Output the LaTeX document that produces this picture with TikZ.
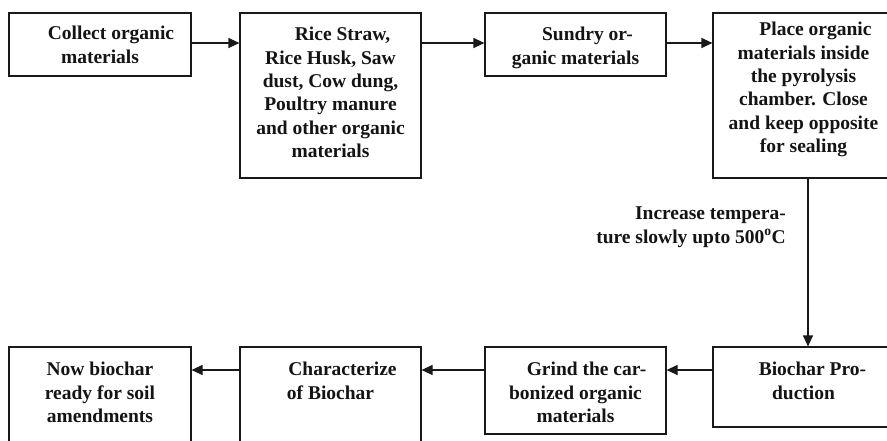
\documentclass[tikz,border=0pt]{standalone}
\usepackage{fontspec}
\setmainfont{Liberation Serif}
\usetikzlibrary{arrows.meta}
\begin{document}
\begin{tikzpicture}[x=1pt,y=-1pt,
  box/.style={draw=black!90,line width=1.2pt,rectangle,inner sep=0pt},
  txt/.style={anchor=north,align=center,inner sep=0pt,text=black!92,
    font=\fontsize{19.5}{23.4}\selectfont\bfseries},
  conn/.style={line width=1.2pt,draw=black!90,-{Triangle[length=11pt,width=10pt]}}]
\useasboundingbox (0,0) rectangle (887,440);
\clip (0,0) rectangle (887,440);
\fill[white] (0,0) rectangle (887,440);
% boxes
\node[box,minimum width=182pt,minimum height=63pt] (b1) at (100,44.5) {};
\node[box,minimum width=181pt,minimum height=165pt] (b2) at (330.5,95.5) {};
\node[box,minimum width=181pt,minimum height=63pt] (b3) at (575.5,44.5) {};
\node[box,minimum width=181pt,minimum height=165pt] (b4) at (803.5,95.5) {};
\node[box,minimum width=181pt,minimum height=80pt] (b5) at (803.5,387) {};
\node[box,minimum width=181pt,minimum height=87pt] (b6) at (575.5,390.5) {};
\node[box,minimum width=181pt,minimum height=123pt] (b7) at (330.5,408.5) {};
\node[box,minimum width=182pt,minimum height=123pt] (b8) at (100,408.5) {};
% texts
\node[txt] (t1) at (100,26) {\hspace*{22pt}Collect organic\\materials};
\node[txt] (t2) at (330.5,27) {\hspace*{24pt}Rice Straw,\\Rice Husk, Saw\\dust, Cow dung,\\Poultry manure\\and other organic\\materials};
\node[txt] (t3) at (575.5,27) {\hspace*{24pt}Sundry or-\\ganic materials};
\node[txt] (t4) at (803.5,22) {\hspace*{24pt}Place organic\\materials inside\\the pyrolysis\\chamber. Close\\and keep opposite\\for sealing};
\node[txt] (t5) at (803.5,362) {\hspace*{18pt}Biochar Pro-\\duction};
\node[txt] (t6) at (575.5,362) {\hspace*{22pt}Grind the car-\\bonized organic\\materials};
\node[txt] (t7) at (330.5,362) {\hspace*{24pt}Characterize\\of Biochar};
\node[txt] (t8) at (100,362) {Now biochar\\ready for soil\\amendments};
\node[txt,anchor=north east,align=right] (lab) at (786,207) {Increase tempera-\\ture slowly upto 500\textsuperscript{o}C};
% connectors
\coordinate (ra) at (0,43);
\coordinate (rb) at (0,370);
\coordinate (col) at (808,0);
\draw[conn] (b1.east |- ra) -- (b2.west |- ra);
\draw[conn] (b2.east |- ra) -- (b3.west |- ra);
\draw[conn] (b3.east |- ra) -- (b4.west |- ra);
\draw[conn] (b4.south -| col) -- (b5.north -| col);
\draw[conn] (b5.west |- rb) -- (b6.east |- rb);
\draw[conn] (b6.west |- rb) -- (b7.east |- rb);
\draw[conn] (b7.west |- rb) -- (b8.east |- rb);
\end{tikzpicture}
\end{document}
